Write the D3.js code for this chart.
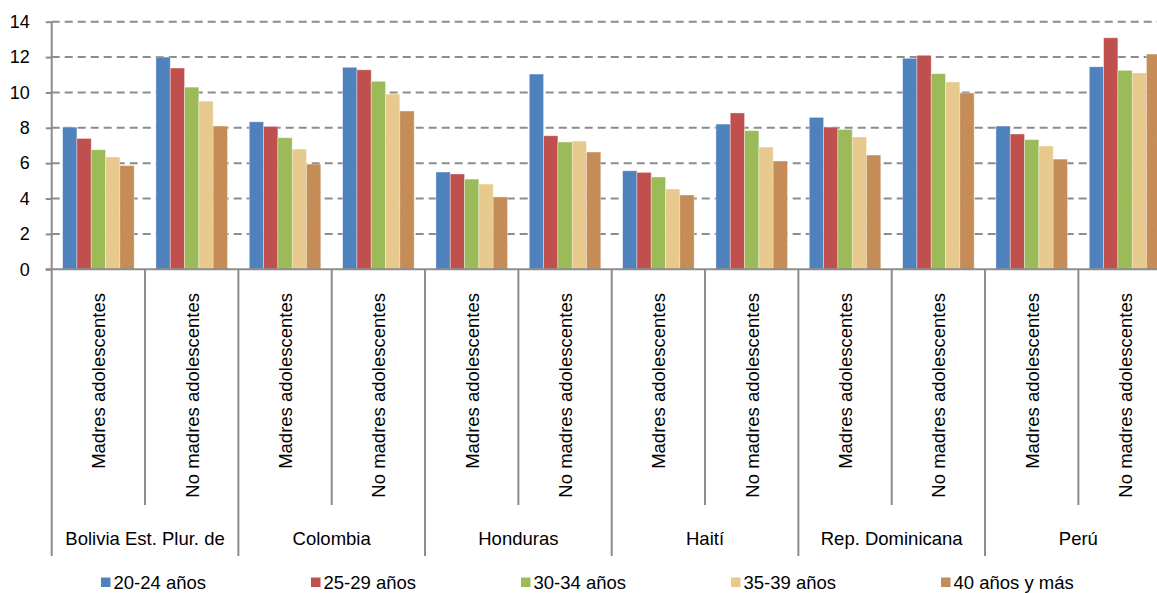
<!DOCTYPE html>
<html>
<head>
<meta charset="utf-8">
<script src="https://cdn.jsdelivr.net/npm/d3@7"></script>
<style>
  html, body { margin: 0; padding: 0; background: #fff; }
  svg { display: block; font-family: "Liberation Sans", Arial, sans-serif; }
</style>
</head>
<body>
<svg id="chart" width="1157" height="593"></svg>
<script>
// Countries and the two groups of mothers shown under each
const countries = ["Bolivia Est. Plur. de", "Colombia", "Honduras", "Haití", "Rep. Dominicana", "Perú"];
const groups = ["Madres adolescentes", "No madres adolescentes"];

// Age brackets (legend order)
const seriesNames = ["20-24 años", "25-29 años", "30-34 años", "35-39 años", "40 años y más"];

// Values per age bracket, one per country/group cell (Madres, No madres for each country)
const age2024 = [8.04, 12.0, 8.34, 11.42, 5.5, 11.04, 5.57, 8.21, 8.59, 11.93, 8.1, 11.45];
const age2529 = [7.4, 11.38, 8.08, 11.28, 5.39, 7.55, 5.48, 8.84, 8.04, 12.1, 7.65, 13.09];
const age3034 = [6.76, 10.3, 7.44, 10.63, 5.1, 7.2, 5.22, 7.84, 7.91, 11.06, 7.33, 11.25];
const age3539 = [6.35, 9.51, 6.8, 9.91, 4.82, 7.25, 4.54, 6.91, 7.48, 10.59, 6.97, 11.1];
const age40 = [5.86, 8.1, 5.95, 8.95, 4.09, 6.63, 4.2, 6.12, 6.46, 9.97, 6.23, 12.17];

const yTicks = [0, 2, 4, 6, 8, 10, 12, 14];

const seriesValues = [age2024, age2529, age3034, age3539, age40];
const colors = ["#4F81BD", "#C0504D", "#9BBB59", "#E7C98C", "#C68A55"];

// One cell per country/group pair
const cells = [];
countries.forEach(c => groups.forEach(g => cells.push(c + "|" + g)));

const svg = d3.select("#chart");
const W = 1157;

// Textures for the two lighter series
const defs = svg.append("defs");
function texture(id, dark, freq, alpha) {
  const f = defs.append("filter").attr("id", id)
    .attr("x", 0).attr("y", 0).attr("width", "100%").attr("height", "100%");
  f.append("feTurbulence").attr("type", "fractalNoise")
    .attr("baseFrequency", freq).attr("numOctaves", 2).attr("seed", 7).attr("result", "noise");
  f.append("feColorMatrix").attr("in", "noise").attr("type", "matrix")
    .attr("values", `0 0 0 0 ${dark[0]}  0 0 0 0 ${dark[1]}  0 0 0 0 ${dark[2]}  0 0 0 ${alpha} ${-alpha * 0.45}`)
    .attr("result", "spots");
  f.append("feComposite").attr("in", "spots").attr("in2", "SourceGraphic").attr("operator", "in").attr("result", "clip");
  const m = f.append("feMerge");
  m.append("feMergeNode").attr("in", "SourceGraphic");
  m.append("feMergeNode").attr("in", "clip");
  return id;
}
const paperF = texture("paperTex", [0.78, 0.64, 0.4], 0.35, 0.9);
const corkF = texture("corkTex", [0.55, 0.33, 0.16], 0.7, 1.4);
const filters = [null, null, null, paperF, corkF];

// Scales
const x0 = d3.scaleBand().domain(cells).range([51.7, 1171.7]).paddingInner(0).paddingOuter(0);
const bw = x0.bandwidth();
const pad = bw * 0.117;
const x1 = d3.scaleBand().domain(d3.range(seriesNames.length)).range([pad, bw - pad]).padding(0);
const y = d3.scaleLinear().domain([0, 14]).range([269.3, 21.7]);

const axisColor = "#8C8C8C";

// Dashed gridlines
svg.append("g")
  .selectAll("line")
  .data(yTicks.filter(t => t > 0))
  .join("line")
  .attr("x1", 51.7).attr("x2", W)
  .attr("y1", d => y(d)).attr("y2", d => y(d))
  .attr("stroke", axisColor).attr("stroke-width", 2)
  .attr("stroke-dasharray", "8,5");

// Bars
const barG = svg.append("g");
seriesValues.forEach((vals, si) => {
  barG.append("g")
    .selectAll("rect")
    .data(vals)
    .join("rect")
    .attr("x", (d, i) => x0(cells[i]) + x1(si))
    .attr("y", d => y(d))
    .attr("width", x1.bandwidth())
    .attr("height", d => y(0) - y(d))
    .attr("fill", colors[si])
    .attr("filter", filters[si] ? `url(#${filters[si]})` : null)
    .attr("stroke", "rgba(255,255,255,0.45)")
    .attr("stroke-width", 0.8);
});

// Y axis
const yAxis = d3.axisLeft(y).tickValues(yTicks).tickSize(6).tickPadding(16).tickFormat(d3.format("d"));
const yG = svg.append("g").attr("transform", "translate(51.7,0)").call(yAxis);
yG.select(".domain").remove();
yG.selectAll(".tick line").attr("stroke", axisColor).attr("stroke-width", 2);
yG.selectAll(".tick text")
  .attr("font-size", 18).attr("fill", "#000")
  .attr("font-family", "'Liberation Sans', Arial, sans-serif");

// Axis lines
svg.append("line")
  .attr("x1", 51.7).attr("x2", 51.7).attr("y1", y(14)).attr("y2", 556)
  .attr("stroke", axisColor).attr("stroke-width", 2);
svg.append("line")
  .attr("x1", 45.7).attr("x2", W).attr("y1", y(0)).attr("y2", y(0))
  .attr("stroke", axisColor).attr("stroke-width", 2);

// Category separators: short ones between groups, long ones between countries
cells.forEach((c, i) => {
  if (i === 0) return;
  const xx = x0(c);
  svg.append("line")
    .attr("x1", xx).attr("x2", xx)
    .attr("y1", y(0)).attr("y2", i % 2 === 0 ? 556 : 505)
    .attr("stroke", axisColor).attr("stroke-width", 2);
});

// Group labels (rotated)
svg.append("g")
  .selectAll("text")
  .data(cells)
  .join("text")
  .attr("transform", d => `translate(${x0(d) + bw / 2 + 7},293) rotate(-90)`)
  .attr("text-anchor", "end")
  .attr("font-size", 18.5)
  .attr("fill", "#000")
  .text(d => d.split("|")[1]);

// Country labels
svg.append("g")
  .selectAll("text")
  .data(countries)
  .join("text")
  .attr("x", c => x0(c + "|" + groups[0]) + bw)
  .attr("y", 545)
  .attr("text-anchor", "middle")
  .attr("font-size", 18.5)
  .attr("fill", "#000")
  .text(c => c);

// Legend: evenly spaced entries along the bottom
const legendStart = 101, legendStep = 210;
const leg = svg.append("g");
seriesNames.forEach((name, si) => {
  const lx = legendStart + si * legendStep;
  leg.append("rect")
    .attr("x", lx).attr("y", 577.5)
    .attr("width", 9.5).attr("height", 9.5)
    .attr("fill", colors[si])
    .attr("filter", filters[si] ? `url(#${filters[si]})` : null);
  leg.append("text")
    .attr("x", lx + 12.5).attr("y", 588.6)
    .attr("font-size", 18.5).attr("fill", "#000")
    .text(name);
});
</script>
</body>
</html>
